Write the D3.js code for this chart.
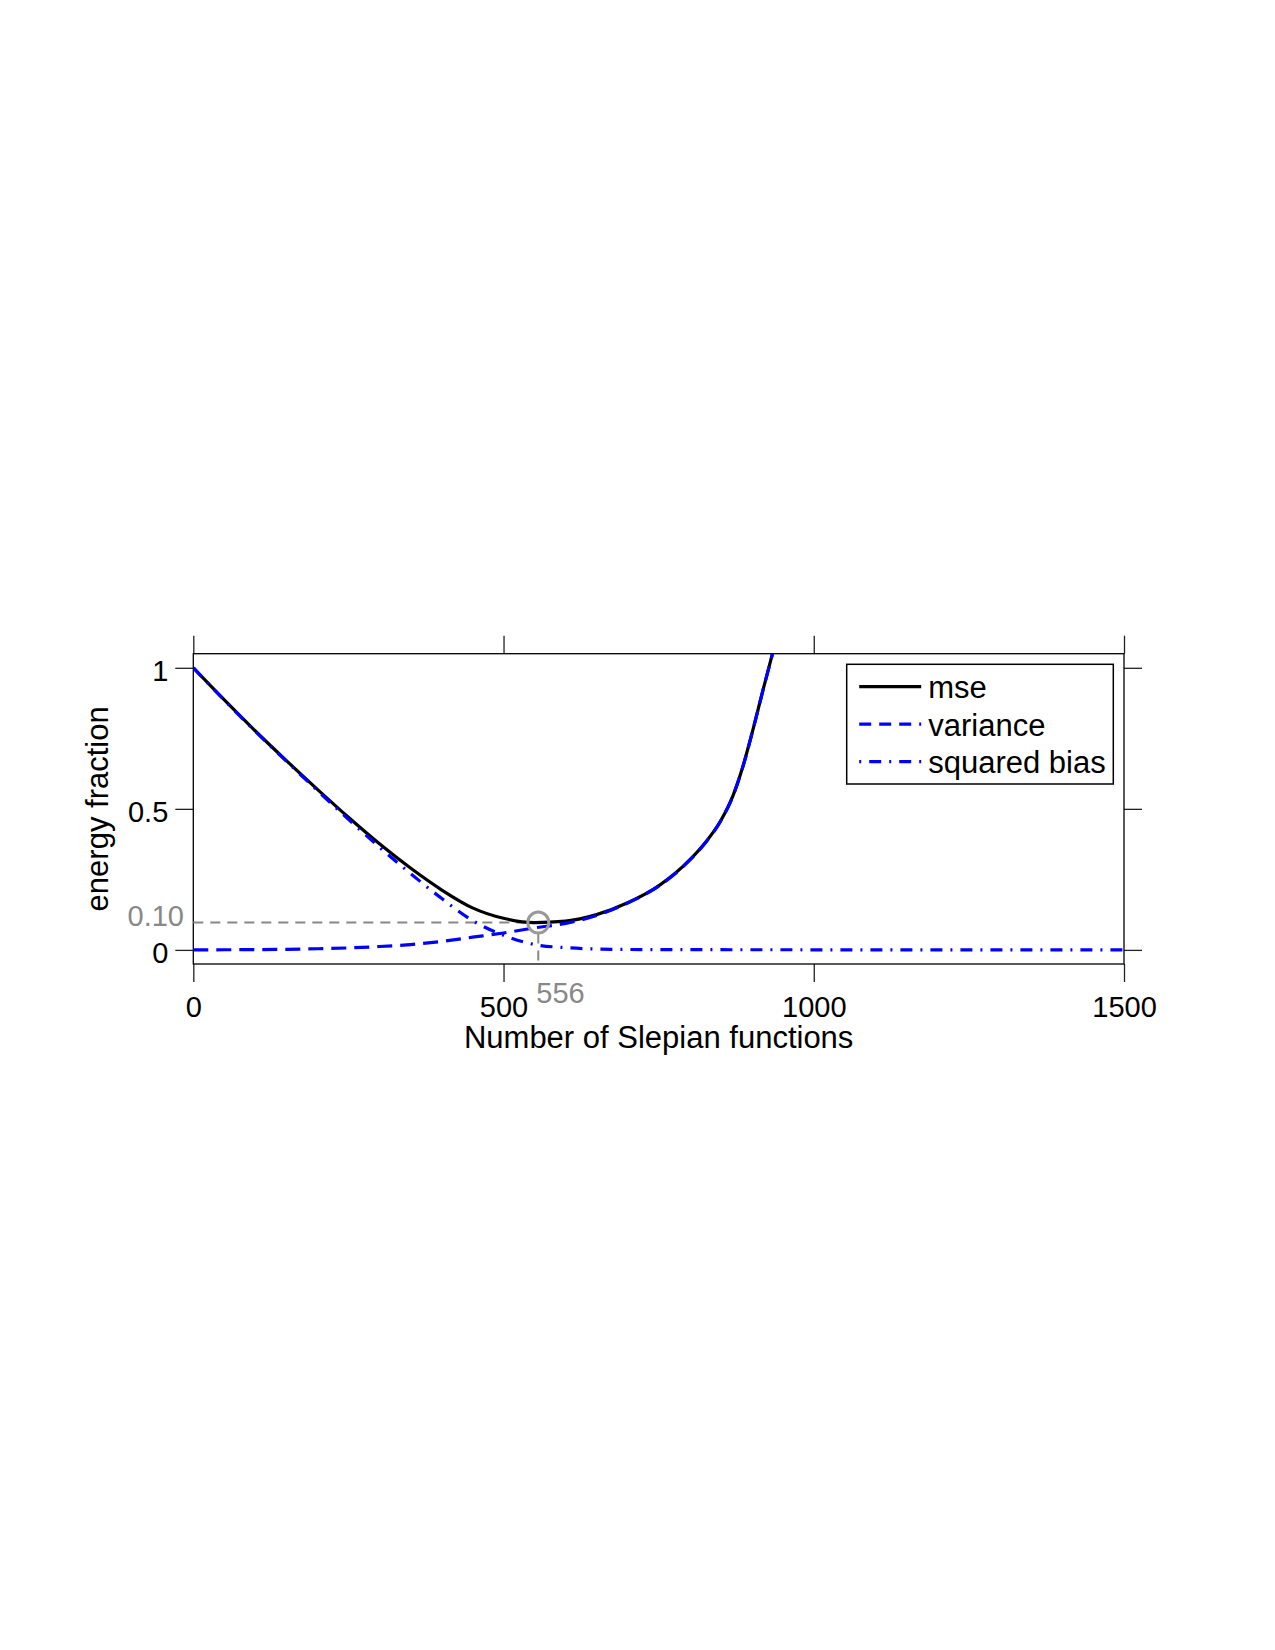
<!DOCTYPE html>
<html>
<head>
<meta charset="utf-8">
<script src="https://cdn.jsdelivr.net/npm/d3@7"></script>
<style>
  body { margin: 0; background: #fff; }
  svg text { font-family: "Liberation Sans", Arial, Helvetica, sans-serif; }
</style>
</head>
<body>
<div id="chart"></div>
<script>
// sample positions (number of Slepian functions) and curve values
const nMse = [0, 50, 100, 150, 200, 250, 300, 350, 400, 450, 500, 550, 600, 650, 700, 750, 800, 825, 850, 870, 886, 902, 918, 934, 950];
const mse = [1.0, 0.886, 0.776, 0.671, 0.569, 0.47, 0.376, 0.29, 0.213, 0.149, 0.112, 0.097, 0.102, 0.125, 0.167, 0.227, 0.319, 0.38, 0.458, 0.548, 0.652, 0.781, 0.92, 1.055, 1.2];
const variance = [0, 0.0005, 0.001, 0.002, 0.004, 0.007, 0.012, 0.019, 0.03, 0.045, 0.06, 0.078, 0.094, 0.122, 0.166, 0.226, 0.318, 0.379, 0.457, 0.547, 0.651, 0.78, 0.919, 1.054, 1.2];
const nBias = [0, 50, 100, 150, 200, 250, 300, 350, 400, 450, 500, 550, 600, 650, 700, 800, 1000, 1200, 1500];
const bias = [1.0, 0.8855, 0.775, 0.669, 0.565, 0.463, 0.364, 0.271, 0.183, 0.104, 0.052, 0.019, 0.008, 0.003, 0.0015, 0.0008, 0.0004, 0.0002, 0.0001];

const xTicks = [0, 500, 1000, 1500];
const yTicks = [0, 0.5, 1];
const optN = 556;
const optVal = 0.097;
const optLabelX = "556";
const optLabelY = "0.10";
const legendNames = ["mse", "variance", "squared bias"];

const W = 1275, H = 1650;
const margin = { top: 653.7, right: 151, bottom: 686, left: 193.3 };
const width = W - margin.left - margin.right;
const height = H - margin.top - margin.bottom;

const svg = d3.select("#chart").append("svg")
  .attr("width", W)
  .attr("height", H);

const g = svg.append("g")
  .attr("transform", `translate(${margin.left},${margin.top})`);

const x = d3.scaleLinear().domain([0, 1500]).range([0, width]);
const y = d3.scaleLinear().domain([-0.05, 1.05]).range([height, 0]);

// clip to the axes box
svg.append("defs").append("clipPath").attr("id", "clip")
  .append("rect").attr("width", width).attr("height", height);

const tickLen = 18;
const tickColor = "#222";

// ticks on all four sides (labels only bottom/left)
const axB = g.append("g").attr("transform", `translate(0,${height})`)
  .call(d3.axisBottom(x).tickValues(xTicks).tickSize(tickLen).tickSizeOuter(0).tickFormat(d => d));
const axT = g.append("g")
  .call(d3.axisTop(x).tickValues(xTicks).tickSize(tickLen).tickSizeOuter(0).tickFormat(""));
const axL = g.append("g")
  .call(d3.axisLeft(y).tickValues(yTicks).tickSize(tickLen).tickSizeOuter(0).tickFormat(d => d));
const axR = g.append("g").attr("transform", `translate(${width},0)`)
  .call(d3.axisRight(y).tickValues(yTicks).tickSize(tickLen).tickSizeOuter(0).tickFormat(""));

[axB, axT, axL, axR].forEach(a => {
  a.select(".domain").remove();
  a.selectAll(".tick line").attr("stroke", tickColor).attr("stroke-width", 1.3);
});

axB.selectAll(".tick text")
  .attr("y", 53.3).attr("dy", 0)
  .style("font-size", "29px").attr("fill", "#000");
axL.selectAll(".tick text")
  .attr("x", -25).attr("dy", 13)
  .style("font-size", "29px").attr("fill", "#000");

// axes box
g.append("rect")
  .attr("width", width).attr("height", height)
  .attr("fill", "none").attr("stroke", "#000").attr("stroke-width", 1.3);

// annotation lines for the optimum
const gray = "#888";
g.append("line")
  .attr("x1", x(0)).attr("x2", x(optN) - 11)
  .attr("y1", y(optVal)).attr("y2", y(optVal))
  .attr("stroke", gray).attr("stroke-width", 2).attr("stroke-dasharray", "10,7");
g.append("line")
  .attr("x1", x(optN)).attr("x2", x(optN))
  .attr("y1", y(optVal) + 11).attr("y2", height)
  .attr("stroke", gray).attr("stroke-width", 2).attr("stroke-dasharray", "10,7");

// curves
const line = (nArr) => d3.line()
  .x((d, i) => x(nArr[i]))
  .y(d => y(d))
  .curve(d3.curveMonotoneX);

const plot = g.append("g").attr("clip-path", "url(#clip)");

plot.append("path").datum(mse)
  .attr("d", line(nMse))
  .attr("fill", "none").attr("stroke", "#000").attr("stroke-width", 3.2);

plot.append("path").datum(variance)
  .attr("d", line(nMse))
  .attr("fill", "none").attr("stroke", "#0000ff").attr("stroke-width", 3.2)
  .attr("stroke-dasharray", "15,8");

plot.append("path").datum(bias)
  .attr("d", line(nBias))
  .attr("fill", "none").attr("stroke", "#0000ff").attr("stroke-width", 3.2)
  .attr("stroke-dasharray", "12,8,2,8");

// optimum marker
g.append("circle")
  .attr("cx", x(optN)).attr("cy", y(optVal)).attr("r", 10.5)
  .attr("fill", "none").attr("stroke", "#999").attr("stroke-width", 3);

g.append("text")
  .attr("x", x(optN) - 2).attr("y", height + 39.3)
  .attr("text-anchor", "start")
  .style("font-size", "29px").attr("fill", gray)
  .text(optLabelX);
g.append("text")
  .attr("x", -9.3).attr("y", y(optVal) + 3.5)
  .attr("text-anchor", "end")
  .style("font-size", "29px").attr("fill", gray)
  .text(optLabelY);

// axis labels
g.append("text")
  .attr("x", width / 2).attr("y", height + 84.3)
  .attr("text-anchor", "middle")
  .style("font-size", "31px").attr("fill", "#000")
  .text("Number of Slepian functions");

g.append("text")
  .attr("transform", `translate(${108 - margin.left},${height / 2}) rotate(-90)`)
  .attr("text-anchor", "middle")
  .style("font-size", "31px").attr("fill", "#000")
  .text("energy fraction");

// legend
const legend = g.append("g")
  .attr("transform", `translate(${846.7 - margin.left},${664.3 - margin.top})`);

legend.append("rect")
  .attr("width", 266.6).attr("height", 119.7)
  .attr("fill", "#fff").attr("stroke", "#000").attr("stroke-width", 1.5);

const legendStyles = [
  { color: "#000", dash: null },
  { color: "#0000ff", dash: "12,8" },
  { color: "#0000ff", dash: "2,8,12,8" }
];

legendNames.forEach((name, i) => {
  const ly = 22.4 + i * 37.5;
  legend.append("line")
    .attr("x1", 12.5).attr("x2", 74.5)
    .attr("y1", ly).attr("y2", ly)
    .attr("stroke", legendStyles[i].color).attr("stroke-width", 3.2)
    .attr("stroke-dasharray", legendStyles[i].dash);
  legend.append("text")
    .attr("x", 81.5).attr("y", ly + 11.5)
    .style("font-size", "31px").attr("fill", "#000")
    .text(name);
});
</script>
</body>
</html>
